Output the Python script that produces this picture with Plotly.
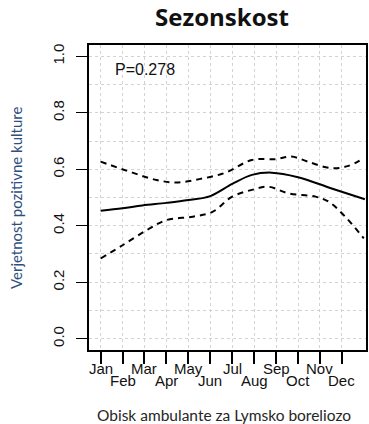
import plotly.graph_objects as go

# Estimated seasonal fit (month as fractional number)
fit_x = [1.0, 2.0, 2.9, 4.0, 5.0, 6.0, 7.0, 7.9, 8.8, 10.0, 11.5, 13.05]
fit_y = [0.453, 0.462, 0.472, 0.481, 0.491, 0.505, 0.548, 0.58, 0.588, 0.572, 0.533, 0.494]

upper_x = [1.0, 2.45, 3.55, 4.45, 5.5, 6.7, 7.9, 9.0, 9.7, 10.45, 11.5, 12.3, 13.0]
upper_y = [0.627, 0.588, 0.562, 0.553, 0.565, 0.588, 0.633, 0.636, 0.645, 0.627, 0.604, 0.612, 0.64]

lower_x = [1.0, 2.0, 3.1, 4.0, 5.2, 6.1, 7.0, 7.9, 8.65, 9.55, 10.8, 11.4, 12.15, 13.0]
lower_y = [0.284, 0.331, 0.384, 0.42, 0.432, 0.449, 0.503, 0.527, 0.538, 0.515, 0.503, 0.485, 0.432, 0.355]

months = ["Jan", "Feb", "Mar", "Apr", "May", "Jun", "Jul", "Aug", "Sep", "Oct", "Nov", "Dec"]
month_pos = list(range(1, 13))
y_ticks = [0.0, 0.2, 0.4, 0.6, 0.8, 1.0]
y_labels = ["0.0", "0.2", "0.4", "0.6", "0.8", "1.0"]

p_text = "P=0.278"
title = "Sezonskost"
x_title = "Obisk ambulante za Lymsko boreliozo"
y_title = "Verjetnost pozitivne kulture"

fig = go.Figure()
fig.add_trace(go.Scatter(x=upper_x, y=upper_y, mode="lines",
                         line=dict(color="black", width=2, dash="6px,5px", shape="spline", smoothing=1.0)))
fig.add_trace(go.Scatter(x=lower_x, y=lower_y, mode="lines",
                         line=dict(color="black", width=2, dash="6px,5px", shape="spline", smoothing=1.0)))
fig.add_trace(go.Scatter(x=fit_x, y=fit_y, mode="lines",
                         line=dict(color="black", width=2, shape="spline", smoothing=1.0)))

tick_font = dict(family="Liberation Sans, Arial", size=15, color="#111")

for i, (m, pos) in enumerate(zip(months, month_pos)):
    fig.add_annotation(x=pos, y=0, xref="x", yref="paper", text=m, showarrow=False,
                       font=tick_font, xanchor="center", yanchor="middle",
                       yshift=-18 if i % 2 == 0 else -30)
fig.add_annotation(x=1.55, y=0.954, xref="x", yref="y", text=p_text, showarrow=False,
                   font=dict(family="Liberation Sans, Arial", size=16, color="#111"),
                   xanchor="left", yanchor="middle")

fig.update_layout(
    width=369, height=424,
    margin=dict(l=89, r=1, t=45, b=74),
    paper_bgcolor="white", plot_bgcolor="white",
    showlegend=False,
    title=dict(text="<b>" + title + "</b>", x=222/369, xanchor="center", y=1-18/424, yanchor="middle",
               font=dict(family="Open Sans", size=24, color="#111")),
)

fig.add_annotation(x=-74/279, y=0.5, xref="paper", yref="paper", text=y_title, textangle=-90,
                   showarrow=False, xanchor="center", yanchor="middle",
                   font=dict(family="Lato", size=15, color="#2E4E7E"))
fig.add_annotation(x=135.5/279, y=-65/305, xref="paper", yref="paper", text=x_title,
                   showarrow=False, xanchor="center", yanchor="middle",
                   font=dict(family="Lato", size=15.5, color="#262626"))

fig.update_xaxes(range=[0.47, 13.1], tickvals=month_pos, ticktext=[""] * 12,
                 showgrid=True, gridcolor="#d3d3d3", griddash="dot", gridwidth=1,
                 ticks="outside", ticklen=12, tickwidth=1.5, tickcolor="black",
                 showline=True, linecolor="black", linewidth=2, mirror=True, zeroline=False)
fig.update_yaxes(range=[-0.04, 1.04], tickvals=y_ticks, ticktext=y_labels, tickangle=-90,
                 tickfont=tick_font, ticks="outside", ticklen=11, tickwidth=1.2, tickcolor="black",
                 showgrid=True, gridcolor="#d3d3d3", griddash="dot", gridwidth=1,
                 minor=dict(dtick=0.1, tick0=0, showgrid=True, gridcolor="#d3d3d3", griddash="dot", ticks=""),
                 showline=True, linecolor="black", linewidth=2, mirror=True, zeroline=False,
                 ticklabelstandoff=6)

fig.write_html("out.html", config={"displayModeBar": False},
               post_script="document.body.style.margin='0';document.body.style.overflow='hidden';")
